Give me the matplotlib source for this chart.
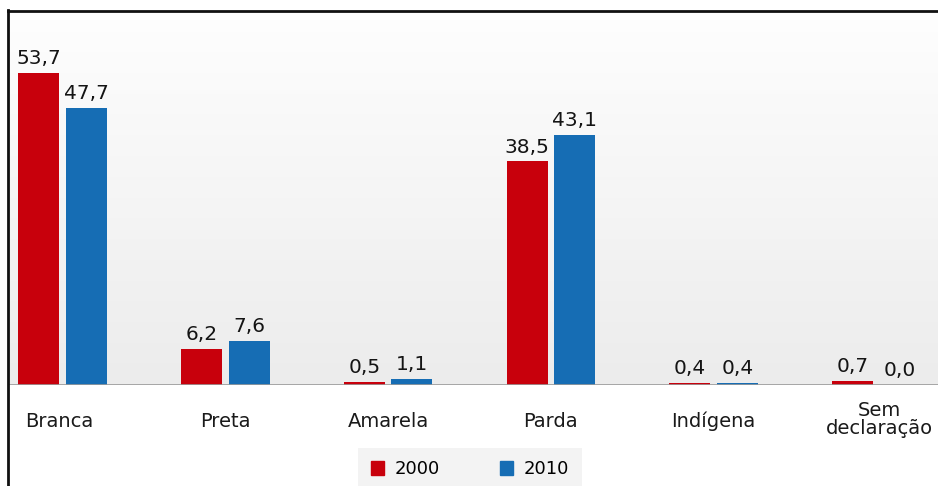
import numpy as np
import matplotlib.pyplot as plt
from matplotlib.lines import Line2D
from matplotlib.patches import Patch
from matplotlib.colors import LinearSegmentedColormap

# Population by colour or race (%), 2000 vs 2010
categories = ['Branca', 'Preta', 'Amarela', 'Parda', 'Indígena', 'Sem\ndeclaração']
values_2000 = [53.7, 6.2, 0.5, 38.5, 0.4, 0.7]
values_2010 = [47.7, 7.6, 1.1, 43.1, 0.4, 0.0]
years = ['2000', '2010']

red = '#c8000c'
blue = '#166db4'

W, H = 938, 486
fig = plt.figure(figsize=(W / 100, H / 100), dpi=100)
ax = fig.add_axes([8 / W, 1 - 385 / H, 1 - 8 / W, (385 - 11) / H])

x = np.arange(len(categories))
width = 0.252
off = 0.146

ax.set_xlim(-0.335, 5.378)
ax.set_ylim(0, 64.4)

# soft vertical gradient behind the bars
grad = np.linspace(0, 1, 256).reshape(-1, 1)
bg = LinearSegmentedColormap.from_list('bg', ['#ececec', '#fefefe'])
ax.imshow(grad, extent=[-0.335, 5.378, 0, 64.4], aspect='auto', cmap=bg,
          origin='lower', zorder=0)

b1 = ax.bar(x - off, values_2000, width, color=red, zorder=2)
b2 = ax.bar(x + off, values_2010, width, color=blue, zorder=2)

for bars, vals in ((b1, values_2000), (b2, values_2010)):
    for rect, v in zip(bars, vals):
        ax.text(rect.get_x() + rect.get_width() / 2, v + 0.8, f'{v:.1f}'.replace('.', ','),
                ha='center', va='bottom', fontsize=14.5, color='#141414', zorder=3)

for i, c in enumerate(categories):
    y = -6.2 if '\n' not in c else -6.0
    ax.text(i + (0.02 if '\n' in c else 0) - (0.02 if i == 0 else 0), y, c,
            ha='center', va='center', fontsize=14, color='#1a1a1a',
            linespacing=0.95, clip_on=False)

ax.set_xticks([])
ax.set_yticks([])
for s in ('right', 'bottom', 'left'):
    ax.spines[s].set_visible(False)
ax.spines['top'].set_color('#111111')
ax.spines['top'].set_linewidth(2)
ax.axhline(0, color='#9a9a9a', lw=1.2, zorder=3)

# frame line on the left edge, down to the bottom
fig.add_artist(Line2D([8 / W, 8 / W], [0, 1 - 10 / H], color='#111111', lw=2))

handles = [Patch(color=red), Patch(color=blue)]
leg = fig.legend(handles, years, loc='lower center', bbox_to_anchor=(470 / W, -0.01),
                 ncol=2, frameon=True, fontsize=13, handlelength=0.75, handleheight=0.75,
                 columnspacing=3.3, handletextpad=0.6, borderpad=0.7, borderaxespad=0,
                 fancybox=False)
leg.get_frame().set_facecolor('#f0f0f0')
leg.get_frame().set_edgecolor('none')

fig.savefig('out.png', dpi=100)
